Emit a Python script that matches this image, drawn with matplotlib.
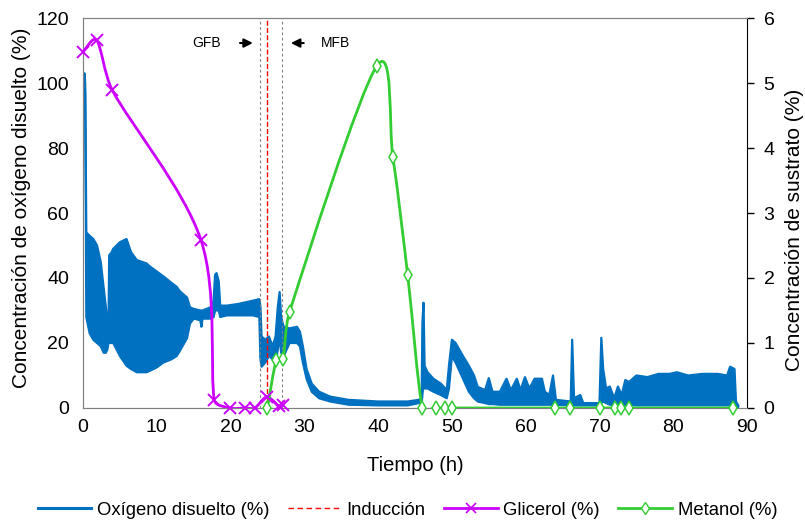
import numpy as np
import matplotlib
matplotlib.use("Agg")
import matplotlib.pyplot as plt
from matplotlib.path import Path
from matplotlib.patches import PathPatch
from matplotlib.lines import Line2D

plt.rcParams['font.family'] = ['Liberation Sans', 'DejaVu Sans']

# oxigeno disuelto: envolvente (min / max) de la senal del sensor
o2_t = [0.05, 0.2, 0.3, 0.38, 0.45, 0.9, 1.4, 1.9, 2.4, 2.8, 3.1, 3.3, 3.45, 3.55,
        3.9, 4.1, 5.0, 5.9, 6.5, 7.3, 8.6, 9.1, 10.0, 10.9, 12.0, 12.7, 13.1, 14.1,
        14.5, 15.0, 15.9, 16.05, 16.2, 17.3, 17.7, 17.9, 18.1, 18.4, 18.6, 19.5,
        21.0, 23.0, 23.9, 24.05, 24.2, 24.7, 25.2, 25.7, 26.1, 26.4, 26.65, 26.85,
        27.2, 28.0, 29.0, 29.4, 29.8, 30.3, 31.0, 32.0, 33.5, 36.0, 40.0, 44.0,
        45.5, 45.9, 46.0, 46.15, 46.3, 46.7, 47.5, 48.5, 49.3, 49.6, 50.0, 50.5,
        51.5, 52.3, 53.0, 53.5, 54.5, 55.0, 55.5, 56.5, 57.4, 58.0, 58.8, 59.3,
        59.9, 60.5, 61.2, 62.2, 62.6, 63.2, 63.7, 64.1, 66.1, 66.3, 66.55, 67.4,
        67.8, 70.0, 70.25, 70.5, 70.9, 71.4, 72.0, 72.5, 73.0, 73.5, 74.0, 75.0,
        76.5, 78.0, 79.5, 80.5, 82.0, 84.0, 86.0, 87.3, 87.7, 88.3, 88.5, 88.8]
o2_lo = [100, 102, 96, 62, 28, 23, 21, 20, 19, 17, 17, 18, 20, 20,
         20, 20, 16, 13, 12, 11, 11, 11.5, 12.5, 14, 15, 16, 17.5, 21.5,
         26, 27.5, 27, 25, 27.5, 27.5, 28, 30, 30, 30, 28, 28.5,
         28.5, 28.5, 28, 15, 12.7, 14, 16, 15, 14, 18, 22, 17,
         16, 20, 20, 19, 14, 9, 5, 3, 2, 1, 0.8, 0.8,
         1.5, 1.5, 4, 8, 6, 6, 5, 4, 3, 6, 16, 14,
         9, 5, 3, 2, 1.5, 1.2, 1.2, 1, 1, 1, 1, 1,
         1, 1, 1, 1, 1, 1, 1, 1, 0.8, 1, 0.8, 0.8,
         0.8, 0.8, 1.5, 2, 1.5, 1, 1, 1, 1, 1, 1, 0.8,
         0.8, 0.8, 0.8, 0.8, 0.8, 0.8, 0.8, 0.8, 0.8, 0.8, 0.5, 0.3]
o2_hi = [101, 103, 100, 75, 54, 53, 52, 50, 45, 37, 31, 27, 24, 47,
         48, 49, 51, 52, 48, 45.5, 44.5, 43.5, 42, 40.5, 38.5, 37.3, 36, 34,
         31, 30.5, 30, 30, 30, 31, 33, 41, 41.5, 39, 31.5, 31.5,
         32, 33, 33.5, 31, 22, 21, 22, 19, 22, 31, 35.7, 28,
         25, 24.5, 25, 23.5, 19, 12, 7.5, 5, 3.5, 2.5, 2, 2,
         2.5, 3, 26, 32.4, 13, 11, 9, 7.5, 5.5, 13, 21, 20,
         16, 13, 10, 6.5, 5.5, 9.2, 5, 5, 9, 5.5, 9, 5.5,
         9.5, 6, 9, 9, 5, 4, 10, 2.5, 2, 21, 3, 4,
         1.5, 1.5, 21.6, 12, 6, 6.6, 3, 6.6, 4, 8.6, 8, 10,
         9.5, 10.5, 10.5, 11, 10, 10.5, 10.5, 10, 12.7, 12, 2, 0.8]

# glicerol (%) - muestras
gli_t = [0.0, 1.85, 3.97, 16.0, 17.8, 19.9, 22.0, 23.3, 24.9, 26.5, 27.1]
gli_v = [5.48, 5.66, 4.89, 2.58, 0.12, 0.0, 0.0, 0.0, 0.17, 0.03, 0.05]

# metanol (%) - muestras
met_t = [25.0, 26.2, 27.1, 28.0, 39.8, 42.0, 44.0, 46.0, 47.9, 49.0, 50.0,
         64.0, 66.0, 70.1, 72.1, 72.9, 74.0, 88.1]
met_v = [0.0, 0.74, 0.75, 1.48, 5.26, 3.86, 2.05, 0.0, 0.0, 0.0, 0.0,
         0.0, 0.0, 0.0, 0.0, 0.0, 0.0, 0.0]

t_gfb = 24.0
t_ind = 25.0
t_mfb = 27.0

c_o2 = '#0070C0'
c_gli = '#CC00FF'
c_met = '#33CC33'


def smooth_path(ax, xs, ys):
    """curva suave (bezier, catmull-rom 1/6) por los puntos, en pixeles.
    el brazo de control se limita a 1/3 del tramo para que no haga lazos"""
    pts = ax.transData.transform(np.column_stack([xs, ys]))
    n = len(pts)
    verts = [pts[0]]
    codes = [Path.MOVETO]
    for i in range(n - 1):
        p0 = pts[max(i - 1, 0)]
        p1 = pts[i]
        p2 = pts[i + 1]
        p3 = pts[min(i + 2, n - 1)]
        L = np.hypot(*(p2 - p1))
        v1 = (p2 - p0) / 6
        v2 = (p3 - p1) / 6
        for v in (v1, v2):
            m = np.hypot(*v)
            if m > L / 3:
                v *= (L / 3) / m
        verts += [p1 + v1, p2 - v2, p2]
        codes += [Path.CURVE4] * 3
    verts = ax.transData.inverted().transform(np.array(verts))
    return Path(verts, codes)


fig, ax = plt.subplots(figsize=(8.05, 5.24), dpi=100)
fig.subplots_adjust(left=0.1031, right=0.928, bottom=0.2214, top=0.9656)
ax2 = ax.twinx()

ax.set_xlim(0, 90)
ax.set_ylim(0, 120)
ax2.set_ylim(0, 6)

# oxigeno
ax.fill_between(o2_t, o2_lo, o2_hi, color=c_o2, lw=0, zorder=2)
ax.plot(o2_t, o2_lo, color=c_o2, lw=1.6, zorder=2)
ax.plot(o2_t, o2_hi, color=c_o2, lw=1.6, zorder=2)

# lineas de fases
ax.axvline(t_gfb, color='#7F7F7F', lw=0.8, ls=(0, (2.4, 2.4)), zorder=3)
ax.axvline(t_mfb, color='#7F7F7F', lw=0.8, ls=(0, (2.4, 2.4)), zorder=3)
ax.axvline(t_ind, color='#FF0000', lw=1.0, ls=(0, (3.6, 1.6)), zorder=3)

ax.text(16.8, 112.3, 'GFB', fontsize=10, ha='center', va='center')
ax.text(34.2, 112.3, 'MFB', fontsize=10, ha='center', va='center')
ax.annotate('', xy=(23.4, 112.3), xytext=(20.9, 112.3),
            arrowprops=dict(arrowstyle='-|>', color='k', lw=1.5, mutation_scale=13))
ax.annotate('', xy=(27.8, 112.3), xytext=(30.3, 112.3),
            arrowprops=dict(arrowstyle='-|>', color='k', lw=1.5, mutation_scale=13))

# sustratos (eje secundario)
ax2.add_patch(PathPatch(smooth_path(ax2, gli_t, gli_v), fill=False,
                        edgecolor=c_gli, lw=2.0, zorder=4))
ax2.plot(gli_t, gli_v, ls='none', marker='x', ms=8, mew=1.4, color=c_gli,
         clip_on=False, zorder=5)
ax2.add_patch(PathPatch(smooth_path(ax2, met_t, met_v), fill=False,
                        edgecolor=c_met, lw=2.0, zorder=4))
ax2.plot(met_t, met_v, ls='none', marker='d', ms=7, mew=1.1, color=c_met,
         mfc='white', clip_on=False, zorder=5)

ax.set_xticks(range(0, 91, 10))
ax.set_yticks(range(0, 121, 20))
ax2.set_yticks(range(0, 7))
ax.tick_params(axis='x', length=0, labelsize=14, pad=8)
ax.tick_params(axis='y', length=0, labelsize=14, pad=10)
ax2.tick_params(axis='y', length=5, width=1, direction='out', labelsize=14, pad=7)
ax.set_xlabel('Tiempo (h)', fontsize=14.5, labelpad=14)
ax.set_ylabel('Concentración de oxígeno disuelto (%)', fontsize=15)
ax2.set_ylabel('Concentración de sustrato (%)', fontsize=15)
ax.yaxis.set_label_coords(-0.078, 0.513)
ax2.yaxis.set_label_coords(1.057, 0.456)

for s in ['left', 'top', 'bottom']:
    ax.spines[s].set_color('#808080')
    ax2.spines[s].set_color('#808080')
ax2.spines['right'].set_color('black')
ax.spines['right'].set_visible(False)

handles = [
    Line2D([], [], color=c_o2, lw=2.2),
    Line2D([], [], color='#FF0000', lw=1.0, ls=(0, (4, 2.5))),
    Line2D([], [], color=c_gli, lw=2.0, marker='x', ms=7, mew=1.2),
    Line2D([], [], color=c_met, lw=2.0, marker='d', ms=6, mew=1.0, mfc='white'),
]
labels = ['Oxígeno disuelto (%)', 'Inducción', 'Glicerol (%)', 'Metanol (%)']
fig.legend(handles, labels, loc='center', bbox_to_anchor=(0.506, 0.026), ncol=4,
           frameon=False, fontsize=13.3, handlelength=2.9, columnspacing=1.0,
           handletextpad=0.3)

fig.savefig('out.png', dpi=100)
